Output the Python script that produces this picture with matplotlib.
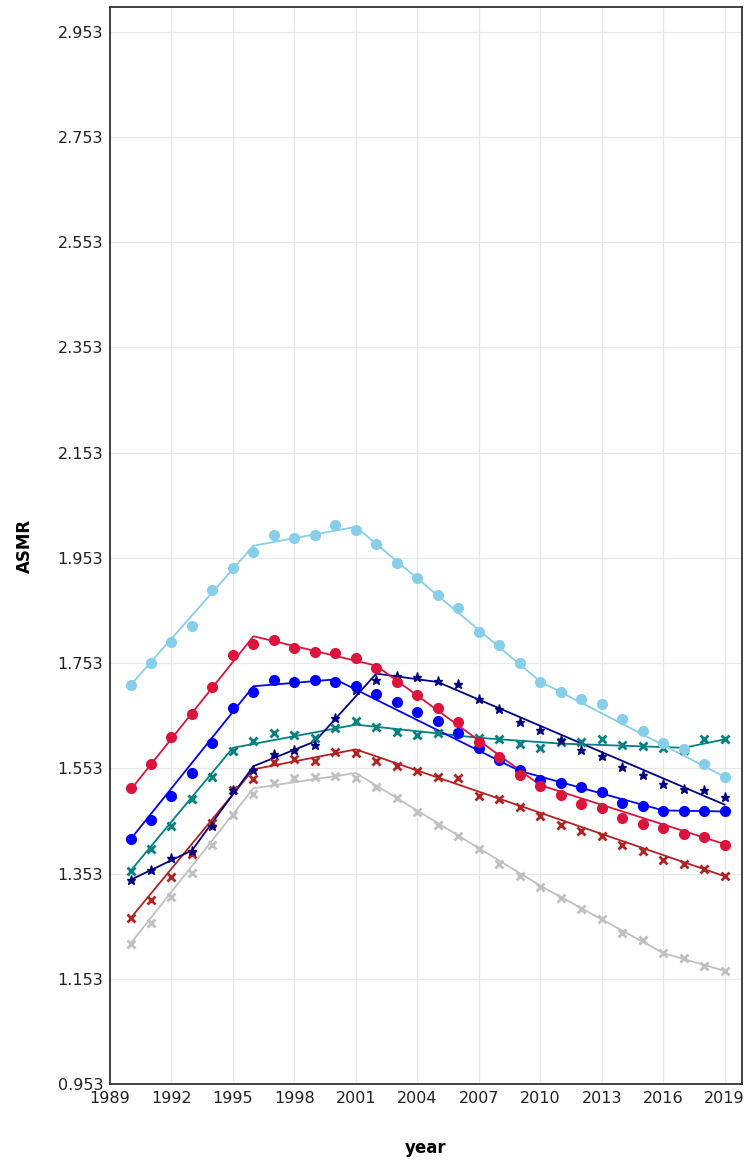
import numpy as np
import matplotlib.pyplot as plt

years = list(range(1990, 2020))

# observed ASMR values (markers)
skyblue_obs = [1.711, 1.753, 1.794, 1.823, 1.891, 1.933, 1.965, 1.996, 1.990, 1.996,
               2.015, 2.005, 1.979, 1.944, 1.914, 1.882, 1.857, 1.813, 1.787, 1.753,
               1.718, 1.699, 1.684, 1.675, 1.646, 1.624, 1.601, 1.590, 1.561, 1.537]
red_obs = [1.515, 1.562, 1.613, 1.657, 1.708, 1.768, 1.790, 1.796, 1.782, 1.775,
           1.772, 1.762, 1.743, 1.718, 1.692, 1.667, 1.641, 1.603, 1.574, 1.540,
           1.519, 1.502, 1.485, 1.477, 1.459, 1.447, 1.439, 1.429, 1.422, 1.408]
blue_obs = [1.418, 1.454, 1.501, 1.545, 1.601, 1.668, 1.698, 1.721, 1.718, 1.720,
            1.717, 1.710, 1.694, 1.679, 1.660, 1.643, 1.620, 1.592, 1.568, 1.549,
            1.530, 1.525, 1.518, 1.508, 1.487, 1.481, 1.472, 1.472, 1.472, 1.472]
teal_obs = [1.358, 1.399, 1.443, 1.494, 1.537, 1.585, 1.604, 1.621, 1.616, 1.611,
            1.629, 1.642, 1.632, 1.622, 1.616, 1.620, 1.620, 1.611, 1.608, 1.599,
            1.592, 1.603, 1.603, 1.608, 1.597, 1.596, 1.591, 1.587, 1.608, 1.608]
navy_obs = [1.341, 1.360, 1.382, 1.396, 1.444, 1.511, 1.549, 1.580, 1.587, 1.598,
            1.649, 1.702, 1.720, 1.729, 1.727, 1.719, 1.714, 1.684, 1.665, 1.641,
            1.625, 1.606, 1.587, 1.576, 1.556, 1.541, 1.524, 1.513, 1.511, 1.499]
firebrick_obs = [1.268, 1.302, 1.346, 1.391, 1.449, 1.511, 1.532, 1.565, 1.570, 1.566,
                 1.584, 1.582, 1.567, 1.558, 1.548, 1.537, 1.534, 1.500, 1.494, 1.479,
                 1.462, 1.445, 1.434, 1.425, 1.407, 1.396, 1.378, 1.372, 1.361, 1.348]
silver_obs = [1.220, 1.259, 1.309, 1.354, 1.408, 1.465, 1.504, 1.525, 1.534, 1.537,
              1.539, 1.534, 1.518, 1.497, 1.470, 1.445, 1.425, 1.399, 1.372, 1.348,
              1.328, 1.306, 1.285, 1.266, 1.240, 1.227, 1.202, 1.192, 1.178, 1.168]

# joinpoint fitted lines (knot years, values)
skyblue_fit_x = [1990, 1996, 2001, 2010, 2019]
skyblue_fit_y = [1.711, 1.976, 2.012, 1.718, 1.537]
red_fit_x = [1990, 1996, 2002, 2010, 2019]
red_fit_y = [1.512, 1.804, 1.748, 1.521, 1.409]
blue_fit_x = [1990, 1996, 2000, 2009, 2016, 2019]
blue_fit_y = [1.418, 1.709, 1.722, 1.548, 1.473, 1.471]
teal_fit_x = [1990, 1995, 2001, 2007, 2011, 2017, 2019]
teal_fit_y = [1.358, 1.592, 1.636, 1.611, 1.600, 1.592, 1.608]
navy_fit_x = [1990, 1993, 1996, 1999, 2002, 2005, 2019]
navy_fit_y = [1.341, 1.397, 1.557, 1.604, 1.733, 1.717, 1.484]
firebrick_fit_x = [1990, 1996, 2001, 2019]
firebrick_fit_y = [1.268, 1.551, 1.589, 1.348]
silver_fit_x = [1990, 1996, 2001, 2010, 2016, 2019]
silver_fit_y = [1.220, 1.515, 1.544, 1.330, 1.202, 1.168]

series = [
    (silver_obs, silver_fit_x, silver_fit_y, '#C0C0C0', 'x'),
    (firebrick_obs, firebrick_fit_x, firebrick_fit_y, '#B22222', 'x'),
    (teal_obs, teal_fit_x, teal_fit_y, '#008080', 'x'),
    (navy_obs, navy_fit_x, navy_fit_y, '#000080', '*'),
    (blue_obs, blue_fit_x, blue_fit_y, '#0000FF', 'o'),
    (red_obs, red_fit_x, red_fit_y, '#DC143C', 'o'),
    (skyblue_obs, skyblue_fit_x, skyblue_fit_y, '#87CEEB', 'o'),
]

fig = plt.figure(figsize=(7.46, 11.6), dpi=100)
ax = fig.add_axes([0.1475, 0.0655, 0.8471, 0.9285])

for obs, fx, fy, col, mk in series:
    ax.plot(fx, fy, color=col, lw=1.3, zorder=2)
    if mk == 'o':
        ax.plot(years, obs, ls='none', marker='o', ms=7, color=col, mec=col, zorder=3)
    elif mk == 'x':
        ax.plot(years, obs, ls='none', marker='x', ms=5.5, mew=2.0, color=col, zorder=3)
    else:
        ax.plot(years, obs, ls='none', marker='*', ms=6.5, color=col, mec=col, zorder=3)

yt = [0.953 + 0.2 * i for i in range(11)]
ax.set_yticks(yt)
ax.set_yticklabels(['%.3f' % v for v in yt])
ax.set_xticks(range(1989, 2020, 3))
ax.set_xlim(1989, 2019.85)
ax.set_ylim(0.953, 3.0)
ax.grid(True, color='#e8e8e8', lw=0.9)
ax.set_axisbelow(True)
for s in ax.spines.values():
    s.set_color('#333333')
    s.set_linewidth(1.3)
ax.tick_params(labelsize=11.5, length=0, pad=5, labelcolor='#222222')
ax.set_xlabel('year', fontsize=12, fontweight='bold', va='center')
ax.set_ylabel('ASMR', fontsize=12, fontweight='bold', va='center')
ax.xaxis.set_label_coords(0.5, -0.0594)
ax.yaxis.set_label_coords(-0.1345, 0.5)

fig.savefig('out.png', dpi=100)
